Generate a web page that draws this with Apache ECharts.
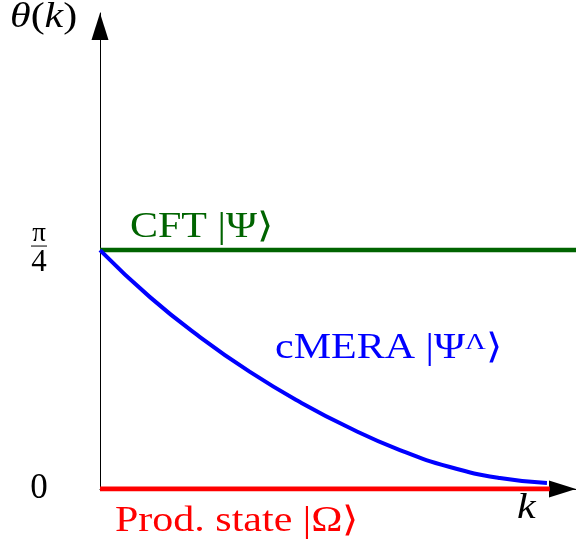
<!DOCTYPE html>
<html>
<head>
<meta charset="utf-8">
<script src="https://cdn.jsdelivr.net/npm/echarts@6/dist/echarts.min.js"></script>
<style>html,body{margin:0;padding:0;background:#fff}#c{width:576px;height:550px}</style>
</head>
<body>
<div id="c"></div>
<script>
// k normalized 0..1, theta in units of pi/4
var cmeraK = [0, 0.105, 0.210, 0.315, 0.420, 0.525, 0.630, 0.735, 0.840, 0.939];
var cmeraTheta = [1.0, 0.803, 0.636, 0.490, 0.364, 0.255, 0.163, 0.092, 0.046, 0.025];
var cftK = [0, 1.0];
var cftTheta = [1, 1];
var prodK = [0, 0.945];
var prodTheta = [0, 0];
var yTickValues = [0, 1];

function pairs(xs, ys) { return xs.map(function (x, i) { return [x, ys[i]]; }); }

var FONT = 'Liberation Serif';
var SX = 1.2;
var chart = echarts.init(document.getElementById('c'));
chart.setOption({
  animation: false,
  grid: { left: 100, right: 0, top: 13, bottom: 61, containLabel: false },
  xAxis: {
    type: 'value', min: 0, max: 1,
    axisLine: { show: true, onZero: false, symbol: ['none', 'triangle'], symbolSize: [17, 27], symbolOffset: [0, -13.5], lineStyle: { color: '#000', width: 1 } },
    axisTick: { show: false }, axisLabel: { show: false }, splitLine: { show: false }
  },
  yAxis: {
    type: 'value', min: 0, max: 1.992,
    axisLine: { show: true, onZero: false, symbol: ['none', 'triangle'], symbolSize: [17, 27], symbolOffset: [0, -13.5], lineStyle: { color: '#000', width: 1 } },
    axisTick: { show: false }, splitLine: { show: false },
    axisLabel: {
      show: true, customValues: yTickValues, margin: 61, align: 'center',
      fontFamily: FONT, fontSize: 35, color: '#000',
      formatter: function (v) { return v === 0 ? '0' : '{n|π}\n{bar|}\n{d|4}'; },
      rich: {
        n: { fontFamily: FONT, fontSize: 27, color: '#000', align: 'center', lineHeight: 20 },
        bar: { backgroundColor: '#000', width: 16, height: 1, align: 'center', lineHeight: 5 },
        d: { fontFamily: FONT, fontSize: 31, color: '#000', align: 'center', lineHeight: 28 }
      }
    }
  },
  series: [
    { type: 'line', data: pairs(prodK, prodTheta), symbol: 'none', lineStyle: { color: '#ff0000', width: 5 }, z: 3 },
    { type: 'line', data: pairs(cftK, cftTheta), symbol: 'none', lineStyle: { color: '#006400', width: 4.5 }, z: 3 },
    { type: 'line', data: pairs(cmeraK, cmeraTheta), symbol: 'none', smooth: true, lineStyle: { color: '#0000ff', width: 4 }, z: 4 }
  ],
  graphic: [
    { type: 'text', x: 10, y: 0, scaleX: SX, style: { text: '{i|θ}{r|(}{i|k}{r|)}', rich: {
      i: { fontFamily: FONT, fontStyle: 'italic', fontSize: 35, fill: '#000' },
      r: { fontFamily: FONT, fontSize: 35, fill: '#000' } } } },
    { type: 'text', x: 130, y: 210, scaleX: SX, style: { text: 'CFT |Ψ⟩', fontFamily: FONT, fontSize: 35, fill: '#006400' } },
    { type: 'text', x: 275, y: 331, scaleX: SX, style: { text: 'cMERA |Ψ{s|Λ}⟩', fontFamily: FONT, fontSize: 35, fill: '#0000ff', rich: { s: { fontFamily: FONT, fontSize: 24, fill: '#0000ff', verticalAlign: 'top', padding: [0, 0, 12, 0] } } } },
    { type: 'text', x: 115, y: 504, scaleX: SX, style: { text: 'Prod. state |Ω⟩', fontFamily: FONT, fontSize: 35, fill: '#ff0000' } },
    { type: 'text', x: 517, y: 491, scaleX: SX, style: { text: 'k', fontFamily: FONT, fontStyle: 'italic', fontSize: 35, fill: '#000' } }
  ]
});
</script>
</body>
</html>
